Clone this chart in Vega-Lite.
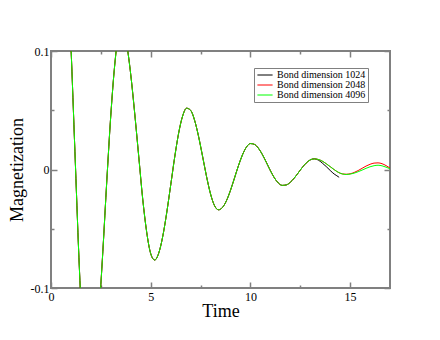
{
  "$schema": "https://vega.github.io/schema/vega-lite/v6.json",
  "width": 339,
  "height": 237,
  "autosize": {"type": "none"},
  "padding": {"left": 51, "top": 51, "right": 50, "bottom": 52},
  "background": "white",
  "config": {
    "view": {"stroke": "#808080", "strokeWidth": 2},
    "axis": {
      "labelFont": "Liberation Serif", "titleFont": "Liberation Serif",
      "labelFontSize": 12, "titleFontSize": 18, "titleFontWeight": "normal",
      "labelColor": "black", "titleColor": "black",
      "tickColor": "#808080", "tickWidth": 1.5, "domain": false, "grid": false
    },
    "legend": {
      "labelFont": "Liberation Serif", "labelFontSize": 10, "labelColor": "black",
      "strokeColor": "#808080", "fillColor": "white", "padding": 2, "cornerRadius": 0
    }
  },
  "data": {
    "values": [
      {"t": 0, "Bond dimension 1024": 0.205, "Bond dimension 2048": 0.205, "Bond dimension 4096": 0.205},
      {"t": 0.2, "Bond dimension 1024": 0.214, "Bond dimension 2048": 0.214, "Bond dimension 4096": 0.214},
      {"t": 0.4, "Bond dimension 1024": 0.219, "Bond dimension 2048": 0.219, "Bond dimension 4096": 0.219},
      {"t": 0.6, "Bond dimension 1024": 0.215, "Bond dimension 2048": 0.215, "Bond dimension 4096": 0.215},
      {"t": 0.8, "Bond dimension 1024": 0.175, "Bond dimension 2048": 0.175, "Bond dimension 4096": 0.175},
      {"t": 1.0, "Bond dimension 1024": 0.104, "Bond dimension 2048": 0.104, "Bond dimension 4096": 0.104},
      {"t": 1.2, "Bond dimension 1024": 0.015, "Bond dimension 2048": 0.015, "Bond dimension 4096": 0.015},
      {"t": 1.4, "Bond dimension 1024": -0.074, "Bond dimension 2048": -0.074, "Bond dimension 4096": -0.074},
      {"t": 1.6, "Bond dimension 1024": -0.145, "Bond dimension 2048": -0.145, "Bond dimension 4096": -0.145},
      {"t": 1.8, "Bond dimension 1024": -0.185, "Bond dimension 2048": -0.185, "Bond dimension 4096": -0.185},
      {"t": 2.0, "Bond dimension 1024": -0.187, "Bond dimension 2048": -0.187, "Bond dimension 4096": -0.187},
      {"t": 2.2, "Bond dimension 1024": -0.165, "Bond dimension 2048": -0.165, "Bond dimension 4096": -0.165},
      {"t": 2.4, "Bond dimension 1024": -0.123, "Bond dimension 2048": -0.123, "Bond dimension 4096": -0.123},
      {"t": 2.6, "Bond dimension 1024": -0.069, "Bond dimension 2048": -0.069, "Bond dimension 4096": -0.069},
      {"t": 2.8, "Bond dimension 1024": -0.009, "Bond dimension 2048": -0.009, "Bond dimension 4096": -0.009},
      {"t": 3.0, "Bond dimension 1024": 0.046, "Bond dimension 2048": 0.046, "Bond dimension 4096": 0.046},
      {"t": 3.2, "Bond dimension 1024": 0.089, "Bond dimension 2048": 0.089, "Bond dimension 4096": 0.089},
      {"t": 3.4, "Bond dimension 1024": 0.114, "Bond dimension 2048": 0.114, "Bond dimension 4096": 0.114},
      {"t": 3.6, "Bond dimension 1024": 0.117, "Bond dimension 2048": 0.117, "Bond dimension 4096": 0.117},
      {"t": 3.8, "Bond dimension 1024": 0.105, "Bond dimension 2048": 0.105, "Bond dimension 4096": 0.105},
      {"t": 4.0, "Bond dimension 1024": 0.080, "Bond dimension 2048": 0.080, "Bond dimension 4096": 0.080},
      {"t": 4.2, "Bond dimension 1024": 0.047, "Bond dimension 2048": 0.047, "Bond dimension 4096": 0.047},
      {"t": 4.4, "Bond dimension 1024": 0.011, "Bond dimension 2048": 0.011, "Bond dimension 4096": 0.011},
      {"t": 4.6, "Bond dimension 1024": -0.025, "Bond dimension 2048": -0.025, "Bond dimension 4096": -0.025},
      {"t": 4.8, "Bond dimension 1024": -0.053, "Bond dimension 2048": -0.053, "Bond dimension 4096": -0.053},
      {"t": 5.0, "Bond dimension 1024": -0.071, "Bond dimension 2048": -0.071, "Bond dimension 4096": -0.071},
      {"t": 5.2, "Bond dimension 1024": -0.0764, "Bond dimension 2048": -0.0764, "Bond dimension 4096": -0.0764},
      {"t": 5.4, "Bond dimension 1024": -0.0707, "Bond dimension 2048": -0.0707, "Bond dimension 4096": -0.0707},
      {"t": 5.6, "Bond dimension 1024": -0.0568, "Bond dimension 2048": -0.0568, "Bond dimension 4096": -0.0568},
      {"t": 5.8, "Bond dimension 1024": -0.0368, "Bond dimension 2048": -0.0368, "Bond dimension 4096": -0.0368},
      {"t": 6.0, "Bond dimension 1024": -0.0135, "Bond dimension 2048": -0.0135, "Bond dimension 4096": -0.0135},
      {"t": 6.2, "Bond dimension 1024": 0.0101, "Bond dimension 2048": 0.0101, "Bond dimension 4096": 0.0101},
      {"t": 6.4, "Bond dimension 1024": 0.0306, "Bond dimension 2048": 0.0306, "Bond dimension 4096": 0.0306},
      {"t": 6.6, "Bond dimension 1024": 0.0451, "Bond dimension 2048": 0.0451, "Bond dimension 4096": 0.0451},
      {"t": 6.8, "Bond dimension 1024": 0.0517, "Bond dimension 2048": 0.0517, "Bond dimension 4096": 0.0517},
      {"t": 7.0, "Bond dimension 1024": 0.050, "Bond dimension 2048": 0.050, "Bond dimension 4096": 0.050},
      {"t": 7.2, "Bond dimension 1024": 0.0416, "Bond dimension 2048": 0.0416, "Bond dimension 4096": 0.0416},
      {"t": 7.4, "Bond dimension 1024": 0.0279, "Bond dimension 2048": 0.0279, "Bond dimension 4096": 0.0279},
      {"t": 7.6, "Bond dimension 1024": 0.0112, "Bond dimension 2048": 0.0112, "Bond dimension 4096": 0.0112},
      {"t": 7.8, "Bond dimension 1024": -0.0059, "Bond dimension 2048": -0.0059, "Bond dimension 4096": -0.0059},
      {"t": 8.0, "Bond dimension 1024": -0.0206, "Bond dimension 2048": -0.0206, "Bond dimension 4096": -0.0206},
      {"t": 8.2, "Bond dimension 1024": -0.0305, "Bond dimension 2048": -0.0305, "Bond dimension 4096": -0.0305},
      {"t": 8.4, "Bond dimension 1024": -0.034, "Bond dimension 2048": -0.034, "Bond dimension 4096": -0.034},
      {"t": 8.6, "Bond dimension 1024": -0.032, "Bond dimension 2048": -0.032, "Bond dimension 4096": -0.032},
      {"t": 8.8, "Bond dimension 1024": -0.0263, "Bond dimension 2048": -0.0263, "Bond dimension 4096": -0.0263},
      {"t": 9.0, "Bond dimension 1024": -0.0176, "Bond dimension 2048": -0.0176, "Bond dimension 4096": -0.0176},
      {"t": 9.2, "Bond dimension 1024": -0.0073, "Bond dimension 2048": -0.0073, "Bond dimension 4096": -0.0073},
      {"t": 9.4, "Bond dimension 1024": 0.0032, "Bond dimension 2048": 0.0032, "Bond dimension 4096": 0.0032},
      {"t": 9.6, "Bond dimension 1024": 0.0123, "Bond dimension 2048": 0.0123, "Bond dimension 4096": 0.0123},
      {"t": 9.8, "Bond dimension 1024": 0.0189, "Bond dimension 2048": 0.0189, "Bond dimension 4096": 0.0189},
      {"t": 10.0, "Bond dimension 1024": 0.0219, "Bond dimension 2048": 0.0219, "Bond dimension 4096": 0.0219},
      {"t": 10.2, "Bond dimension 1024": 0.0212, "Bond dimension 2048": 0.0212, "Bond dimension 4096": 0.0212},
      {"t": 10.4, "Bond dimension 1024": 0.018, "Bond dimension 2048": 0.018, "Bond dimension 4096": 0.018},
      {"t": 10.6, "Bond dimension 1024": 0.0126, "Bond dimension 2048": 0.0126, "Bond dimension 4096": 0.0126},
      {"t": 10.8, "Bond dimension 1024": 0.006, "Bond dimension 2048": 0.006, "Bond dimension 4096": 0.006},
      {"t": 11.0, "Bond dimension 1024": -0.0009, "Bond dimension 2048": -0.0009, "Bond dimension 4096": -0.0009},
      {"t": 11.2, "Bond dimension 1024": -0.007, "Bond dimension 2048": -0.007, "Bond dimension 4096": -0.007},
      {"t": 11.4, "Bond dimension 1024": -0.0114, "Bond dimension 2048": -0.0114, "Bond dimension 4096": -0.0114},
      {"t": 11.6, "Bond dimension 1024": -0.0134, "Bond dimension 2048": -0.0134, "Bond dimension 4096": -0.0134},
      {"t": 11.8, "Bond dimension 1024": -0.013, "Bond dimension 2048": -0.013, "Bond dimension 4096": -0.013},
      {"t": 12.0, "Bond dimension 1024": -0.0108, "Bond dimension 2048": -0.0108, "Bond dimension 4096": -0.0108},
      {"t": 12.2, "Bond dimension 1024": -0.0072, "Bond dimension 2048": -0.0072, "Bond dimension 4096": -0.0072},
      {"t": 12.4, "Bond dimension 1024": -0.0028, "Bond dimension 2048": -0.0028, "Bond dimension 4096": -0.0028},
      {"t": 12.6, "Bond dimension 1024": 0.0017, "Bond dimension 2048": 0.0017, "Bond dimension 4096": 0.0017},
      {"t": 12.8, "Bond dimension 1024": 0.0055, "Bond dimension 2048": 0.0055, "Bond dimension 4096": 0.0055},
      {"t": 13.0, "Bond dimension 1024": 0.0081, "Bond dimension 2048": 0.0081, "Bond dimension 4096": 0.0081},
      {"t": 13.2, "Bond dimension 1024": 0.009, "Bond dimension 2048": 0.009, "Bond dimension 4096": 0.009},
      {"t": 13.4, "Bond dimension 1024": 0.008, "Bond dimension 2048": 0.0085, "Bond dimension 4096": 0.0085},
      {"t": 13.6, "Bond dimension 1024": 0.0055, "Bond dimension 2048": 0.0071, "Bond dimension 4096": 0.0071},
      {"t": 13.8, "Bond dimension 1024": 0.0025, "Bond dimension 2048": 0.0049, "Bond dimension 4096": 0.0049},
      {"t": 14.0, "Bond dimension 1024": -0.0008, "Bond dimension 2048": 0.0024, "Bond dimension 4096": 0.0024},
      {"t": 14.2, "Bond dimension 1024": -0.0038, "Bond dimension 2048": -0.0001, "Bond dimension 4096": -0.0001},
      {"t": 14.4, "Bond dimension 1024": -0.006, "Bond dimension 2048": -0.0023, "Bond dimension 4096": -0.0023},
      {"t": 14.45, "Bond dimension 1024": -0.0066},
      {"t": 14.6, "Bond dimension 2048": -0.0037, "Bond dimension 4096": -0.0037},
      {"t": 14.8, "Bond dimension 2048": -0.004, "Bond dimension 4096": -0.0042},
      {"t": 15.0, "Bond dimension 2048": -0.0036, "Bond dimension 4096": -0.0039},
      {"t": 15.2, "Bond dimension 2048": -0.0025, "Bond dimension 4096": -0.0031},
      {"t": 15.4, "Bond dimension 2048": -0.0009, "Bond dimension 4096": -0.0019},
      {"t": 15.6, "Bond dimension 2048": 0.001, "Bond dimension 4096": -0.0005},
      {"t": 15.8, "Bond dimension 2048": 0.0029, "Bond dimension 4096": 0.001},
      {"t": 16.0, "Bond dimension 2048": 0.0044, "Bond dimension 4096": 0.0023},
      {"t": 16.2, "Bond dimension 2048": 0.0054, "Bond dimension 4096": 0.0032},
      {"t": 16.4, "Bond dimension 2048": 0.0056, "Bond dimension 4096": 0.0036},
      {"t": 16.6, "Bond dimension 2048": 0.0049, "Bond dimension 4096": 0.0031},
      {"t": 16.8, "Bond dimension 2048": 0.0033, "Bond dimension 4096": 0.002},
      {"t": 17.0, "Bond dimension 2048": 0.0012, "Bond dimension 4096": 0.0006}
    ]
  },
  "transform": [
    {"fold": ["Bond dimension 1024", "Bond dimension 2048", "Bond dimension 4096"], "as": ["series", "m"]},
    {"filter": "isValid(datum.m)"}
  ],
  "layer": [
    {
      "mark": {"type": "line", "clip": true, "strokeWidth": 1, "interpolate": "monotone"},
      "encoding": {
        "x": {"field": "t", "type": "quantitative",
          "scale": {"domain": [0, 17], "nice": false, "zero": false},
          "axis": {"orient": "bottom", "values": [0, 5, 10, 15], "tickSize": -6, "labelPadding": 9, "labelFlush": false, "title": "Time", "titlePadding": 0}},
        "y": {"field": "m", "type": "quantitative",
          "scale": {"domain": [-0.1, 0.1], "nice": false, "zero": false},
          "axis": {"orient": "left", "values": [-0.1, 0, 0.1], "tickSize": -6, "labelPadding": 8,
            "labelExpr": "datum.value < 0 ? '-' + format(-datum.value, '.1f') : (datum.value == 0 ? '0' : format(datum.value, '.1f'))",
            "title": "Magnetization", "titlePadding": 4}},
        "color": {"field": "series", "type": "nominal",
          "scale": {"domain": ["Bond dimension 1024", "Bond dimension 2048", "Bond dimension 4096"], "range": ["#000000", "#ff0000", "#00ff00"]},
          "legend": {"title": null, "orient": "none", "legendX": 203, "legendY": 17, "symbolType": "M-1.9,0H1.9", "symbolSize": 64, "symbolStrokeWidth": 1, "rowPadding": 0, "labelOffset": 7, "symbolOffset": 4}}
      }
    },
    {
      "mark": {"type": "line", "opacity": 0},
      "encoding": {
        "x": {"field": "t", "type": "quantitative", "axis": {"orient": "top", "values": [0, 5, 10, 15], "tickSize": -6, "labels": false, "title": null}},
        "y": {"field": "m", "type": "quantitative", "axis": {"orient": "right", "values": [-0.1, 0, 0.1], "tickSize": -6, "labels": false, "title": null}}
      }
    },
    {
      "mark": {"type": "line", "opacity": 0},
      "encoding": {
        "x": {"field": "t", "type": "quantitative", "axis": {"orient": "bottom", "values": [2.5, 7.5, 12.5], "tickSize": -3, "labels": false, "title": null}},
        "y": {"field": "m", "type": "quantitative", "axis": {"orient": "left", "values": [-0.05, 0.05], "tickSize": -3, "labels": false, "title": null}}
      }
    },
    {
      "mark": {"type": "line", "opacity": 0},
      "encoding": {
        "x": {"field": "t", "type": "quantitative", "axis": {"orient": "top", "values": [2.5, 7.5, 12.5], "tickSize": -3, "labels": false, "title": null}},
        "y": {"field": "m", "type": "quantitative", "axis": {"orient": "right", "values": [-0.05, 0.05], "tickSize": -3, "labels": false, "title": null}}
      }
    }
  ],
  "resolve": {"axis": {"x": "independent", "y": "independent"}}
}
